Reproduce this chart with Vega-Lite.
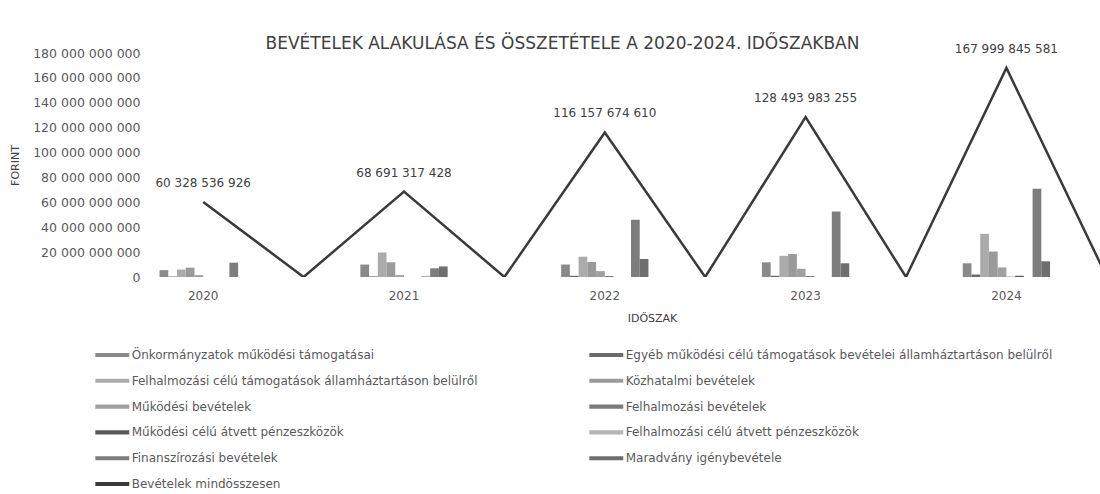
{
  "$schema": "https://vega.github.io/schema/vega-lite/v6.json",
  "width": 947,
  "height": 224,
  "autosize": {"type": "none"},
  "padding": {"left": 153, "top": 53, "right": 0, "bottom": 217},
  "background": "white",
  "config": {
    "locale": {"number": {"decimal": ",", "thousands": " ", "grouping": [3], "currency": ["", ""]}},
    "view": {"stroke": null},
    "font": "DejaVu Sans"
  },
  "title": {
    "text": "BEVÉTELEK ALAKULÁSA ÉS ÖSSZETÉTELE A 2020-2024. IDŐSZAKBAN",
    "fontSize": 17,
    "font": "DejaVu Sans",
    "fontWeight": "normal",
    "color": "#404040",
    "anchor": "middle",
    "dx": -64,
    "dy": 13,
    "offset": 3
  },
  "datasets": {
    "bars": [
      {"ev": "2020", "tetel": "Önkormányzatok működési támogatásai", "ertek": 5500000000},
      {"ev": "2020", "tetel": "Egyéb működési célú támogatások bevételei államháztartáson belülről", "ertek": 400000000},
      {"ev": "2020", "tetel": "Felhalmozási célú támogatások államháztartáson belülről", "ertek": 6000000000},
      {"ev": "2020", "tetel": "Közhatalmi bevételek", "ertek": 7500000000},
      {"ev": "2020", "tetel": "Működési bevételek", "ertek": 1500000000},
      {"ev": "2020", "tetel": "Felhalmozási bevételek", "ertek": 0},
      {"ev": "2020", "tetel": "Működési célú átvett pénzeszközök", "ertek": 0},
      {"ev": "2020", "tetel": "Felhalmozási célú átvett pénzeszközök", "ertek": 0},
      {"ev": "2020", "tetel": "Finanszírozási bevételek", "ertek": 11500000000},
      {"ev": "2020", "tetel": "Maradvány igénybevétele", "ertek": 0},
      {"ev": "2021", "tetel": "Önkormányzatok működési támogatásai", "ertek": 10000000000},
      {"ev": "2021", "tetel": "Egyéb működési célú támogatások bevételei államháztartáson belülről", "ertek": 500000000},
      {"ev": "2021", "tetel": "Felhalmozási célú támogatások államháztartáson belülről", "ertek": 19700000000},
      {"ev": "2021", "tetel": "Közhatalmi bevételek", "ertek": 11800000000},
      {"ev": "2021", "tetel": "Működési bevételek", "ertek": 1500000000},
      {"ev": "2021", "tetel": "Felhalmozási bevételek", "ertek": 0},
      {"ev": "2021", "tetel": "Működési célú átvett pénzeszközök", "ertek": 0},
      {"ev": "2021", "tetel": "Felhalmozási célú átvett pénzeszközök", "ertek": 1000000000},
      {"ev": "2021", "tetel": "Finanszírozási bevételek", "ertek": 7000000000},
      {"ev": "2021", "tetel": "Maradvány igénybevétele", "ertek": 8500000000},
      {"ev": "2022", "tetel": "Önkormányzatok működési támogatásai", "ertek": 10000000000},
      {"ev": "2022", "tetel": "Egyéb működési célú támogatások bevételei államháztartáson belülről", "ertek": 1000000000},
      {"ev": "2022", "tetel": "Felhalmozási célú támogatások államháztartáson belülről", "ertek": 16300000000},
      {"ev": "2022", "tetel": "Közhatalmi bevételek", "ertek": 12000000000},
      {"ev": "2022", "tetel": "Működési bevételek", "ertek": 4700000000},
      {"ev": "2022", "tetel": "Felhalmozási bevételek", "ertek": 800000000},
      {"ev": "2022", "tetel": "Működési célú átvett pénzeszközök", "ertek": 0},
      {"ev": "2022", "tetel": "Felhalmozási célú átvett pénzeszközök", "ertek": 0},
      {"ev": "2022", "tetel": "Finanszírozási bevételek", "ertek": 46000000000},
      {"ev": "2022", "tetel": "Maradvány igénybevétele", "ertek": 14500000000},
      {"ev": "2023", "tetel": "Önkormányzatok működési támogatásai", "ertek": 11800000000},
      {"ev": "2023", "tetel": "Egyéb működési célú támogatások bevételei államháztartáson belülről", "ertek": 1000000000},
      {"ev": "2023", "tetel": "Felhalmozási célú támogatások államháztartáson belülről", "ertek": 17000000000},
      {"ev": "2023", "tetel": "Közhatalmi bevételek", "ertek": 18500000000},
      {"ev": "2023", "tetel": "Működési bevételek", "ertek": 6600000000},
      {"ev": "2023", "tetel": "Felhalmozási bevételek", "ertek": 800000000},
      {"ev": "2023", "tetel": "Működési célú átvett pénzeszközök", "ertek": 0},
      {"ev": "2023", "tetel": "Felhalmozási célú átvett pénzeszközök", "ertek": 0},
      {"ev": "2023", "tetel": "Finanszírozási bevételek", "ertek": 52600000000},
      {"ev": "2023", "tetel": "Maradvány igénybevétele", "ertek": 11000000000},
      {"ev": "2024", "tetel": "Önkormányzatok működési támogatásai", "ertek": 11000000000},
      {"ev": "2024", "tetel": "Egyéb működési célú támogatások bevételei államháztartáson belülről", "ertek": 2000000000},
      {"ev": "2024", "tetel": "Felhalmozási célú támogatások államháztartáson belülről", "ertek": 34700000000},
      {"ev": "2024", "tetel": "Közhatalmi bevételek", "ertek": 20500000000},
      {"ev": "2024", "tetel": "Működési bevételek", "ertek": 7700000000},
      {"ev": "2024", "tetel": "Felhalmozási bevételek", "ertek": 300000000},
      {"ev": "2024", "tetel": "Működési célú átvett pénzeszközök", "ertek": 1000000000},
      {"ev": "2024", "tetel": "Felhalmozási célú átvett pénzeszközök", "ertek": 0},
      {"ev": "2024", "tetel": "Finanszírozási bevételek", "ertek": 71000000000},
      {"ev": "2024", "tetel": "Maradvány igénybevétele", "ertek": 12600000000}
    ],
    "total": [
      {"ev": "2020", "ertek": 60328536926},
      {"ev": "2020_", "ertek": 0},
      {"ev": "2021", "ertek": 68691317428},
      {"ev": "2021_", "ertek": 0},
      {"ev": "2022", "ertek": 116157674610},
      {"ev": "2022_", "ertek": 0},
      {"ev": "2023", "ertek": 128493983255},
      {"ev": "2023_", "ertek": 0},
      {"ev": "2024", "ertek": 167999845581},
      {"ev": "2024_", "ertek": 0}
    ]
  },
  "encoding": {
    "x": {
      "field": "ev",
      "type": "nominal",
      "scale": {
        "domain": ["2020", "2020_", "2021", "2021_", "2022", "2022_", "2023", "2023_", "2024", "2024_"],
        "range": [0, 1004],
        "paddingInner": 0,
        "paddingOuter": 0
      },
      "axis": {
        "labelExpr": "indexof(datum.label, '_') >= 0 ? '' : datum.label",
        "labelAngle": 0,
        "domain": false,
        "ticks": false,
        "tickSize": 0,
        "grid": false,
        "labelPadding": 13,
        "labelFontSize": 12,
        "labelColor": "#595959",
        "labelFont": "DejaVu Sans",
        "title": "IDŐSZAK",
        "titleFont": "DejaVu Sans",
        "titleFontSize": 11,
        "titleFontWeight": "normal",
        "titleColor": "#404040",
        "titleX": 499,
        "titlePadding": 11
      }
    },
    "y": {
      "field": "ertek",
      "type": "quantitative",
      "scale": {"domain": [0, 180000000000]},
      "axis": {
        "values": [0, 20000000000, 40000000000, 60000000000, 80000000000, 100000000000, 120000000000, 140000000000, 160000000000, 180000000000],
        "format": ",d",
        "labelOverlap": false,
        "domain": false,
        "ticks": false,
        "tickSize": 0,
        "grid": false,
        "labelPadding": 13,
        "labelFontSize": 12.5,
        "labelColor": "#595959",
        "labelFont": "DejaVu Sans",
        "title": "FORINT",
        "titleFont": "DejaVu Sans",
        "titleFontSize": 11,
        "titleFontWeight": "normal",
        "titleColor": "#404040",
        "titlePadding": 12
      }
    }
  },
  "layer": [
    {
      "data": {"name": "bars"},
      "mark": {"type": "bar"},
      "encoding": {
        "xOffset": {
          "field": "tetel",
          "type": "nominal",
          "scale": {
            "domain": [
              "Önkormányzatok működési támogatásai",
              "Egyéb működési célú támogatások bevételei államháztartáson belülről",
              "Felhalmozási célú támogatások államháztartáson belülről",
              "Közhatalmi bevételek",
              "Működési bevételek",
              "Felhalmozási bevételek",
              "Működési célú átvett pénzeszközök",
              "Felhalmozási célú átvett pénzeszközök",
              "Finanszírozási bevételek",
              "Maradvány igénybevétele"
            ],
            "paddingInner": 0,
            "paddingOuter": 0.75
          }
        },
        "color": {
          "field": "tetel",
          "type": "nominal",
          "scale": {
            "domain": [
              "Önkormányzatok működési támogatásai",
              "Felhalmozási célú támogatások államháztartáson belülről",
              "Működési bevételek",
              "Működési célú átvett pénzeszközök",
              "Finanszírozási bevételek",
              "Bevételek mindösszesen",
              "Egyéb működési célú támogatások bevételei államháztartáson belülről",
              "Közhatalmi bevételek",
              "Felhalmozási bevételek",
              "Felhalmozási célú átvett pénzeszközök",
              "Maradvány igénybevétele"
            ],
            "range": ["#8a8a8a", "#ababab", "#a0a0a0", "#5a5a5a", "#7d7d7d", "#3a3a3a", "#6b6b6b", "#9a9a9a", "#7a7a7a", "#b5b5b5", "#6e6e6e"]
          },
          "legend": {
            "orient": "none",
            "legendX": -46.7,
            "legendY": 296,
            "columns": 2,
            "columnPadding": 111,
            "rowPadding": 13.8,
            "padding": 0,
            "symbolType": "M-3,-0.36L3,-0.36L3,0.36L-3,0.36Z",
            "symbolSize": 128,
            "symbolStrokeWidth": 0,
            "symbolOpacity": 1,
            "labelFontSize": 12,
            "labelFont": "DejaVu Sans",
            "labelColor": "#595959",
            "labelLimit": 700,
            "labelOffset": 13.4,
            "title": null
          }
        }
      }
    },
    {
      "data": {"name": "total"},
      "mark": {"type": "line", "color": "#3a3a3a", "strokeWidth": 2.5, "clip": true}
    },
    {
      "data": {"name": "total"},
      "transform": [{"filter": "datum.ertek > 0"}],
      "mark": {"type": "text", "baseline": "middle", "dy": -19, "fontSize": 12, "font": "DejaVu Sans", "color": "#404040"},
      "encoding": {
        "text": {"field": "ertek", "type": "quantitative", "format": ",d"}
      }
    }
  ]
}
